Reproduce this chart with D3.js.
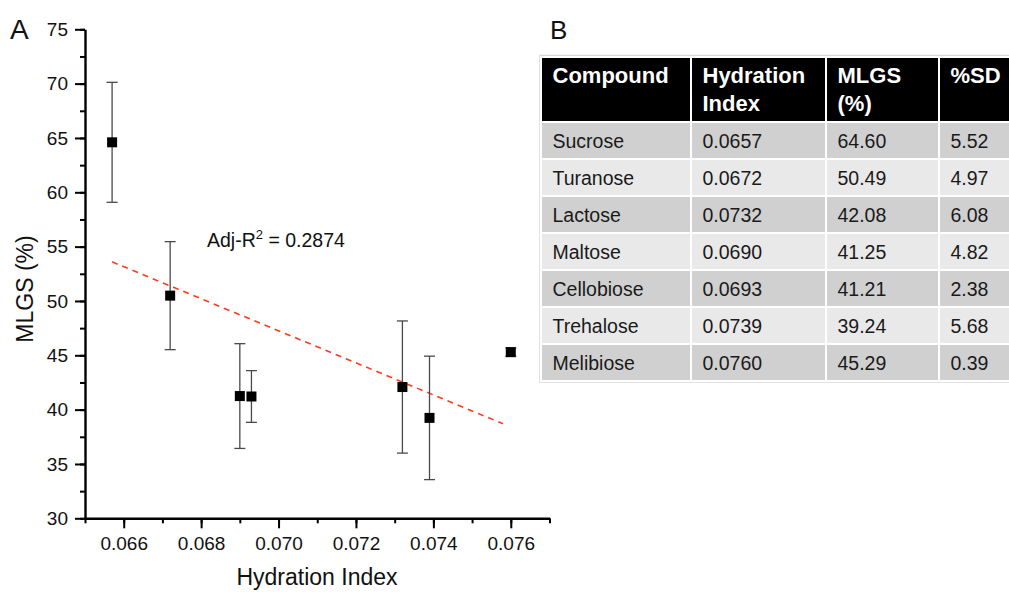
<!DOCTYPE html>
<html>
<head>
<meta charset="utf-8">
<script src="https://cdn.jsdelivr.net/npm/d3@7"></script>
<style>
  html, body { margin: 0; padding: 0; background: #fff; }
  svg { display: block; font-family: "Liberation Sans", Arial, sans-serif; }
</style>
</head>
<body>
<svg id="fig" width="1009" height="592"></svg>
<script>
// Compounds with hydration index, mean MLGS (%) and standard deviation
const compounds = ["Sucrose", "Turanose", "Lactose", "Maltose", "Cellobiose", "Trehalose", "Melibiose"];
const hydrationIndex = [0.0657, 0.0672, 0.0732, 0.0690, 0.0693, 0.0739, 0.0760];
const mlgs = [64.60, 50.49, 42.08, 41.25, 41.21, 39.24, 45.29];
const sd = [5.52, 4.97, 6.08, 4.82, 2.38, 5.68, 0.39];

// Linear fit drawn across the data range
const fitX = [0.0657, 0.0758];
const fitY = [53.6, 38.7];
const fitLabel = "0.2874";

// Axis ticks
const xTicks = [0.066, 0.068, 0.070, 0.072, 0.074, 0.076];
const yTicks = [30, 35, 40, 45, 50, 55, 60, 65, 70, 75];

// Table header
const headers = [["Compound"], ["Hydration", "Index"], ["MLGS", "(%)"], ["%SD"]];

const svg = d3.select("#fig");
const tickFont = 19, titleFont = 23;

// ---------- Panel A: scatter ----------
const x = d3.scaleLinear().domain([0.065, 0.077]).range([85, 549.5]);
const y = d3.scaleLinear().domain([30, 75]).range([518.3, 29.3]);

const gA = svg.append("g");

// minor ticks
const xMinor = d3.range(0.065, 0.0771, 0.001);
const yMinor = d3.range(30, 75.1, 2.5);

const xAxis = gA.append("g").attr("transform", `translate(0,${y(30)})`);
xAxis.append("g")
  .call(d3.axisBottom(x).tickValues(xMinor).tickSize(5).tickFormat(""))
  .call(g => g.select(".domain").remove())
  .call(g => g.selectAll("line").attr("stroke", "#000").attr("stroke-width", 2));
xAxis.append("g")
  .call(d3.axisBottom(x).tickValues(xTicks).tickSize(10).tickSizeOuter(0).tickPadding(8)
    .tickFormat(d3.format(".3f")))
  .call(g => g.select(".domain").attr("stroke-width", 2.4))
  .call(g => g.selectAll("line").attr("stroke", "#000").attr("stroke-width", 2))
  .call(g => g.selectAll("text").attr("font-size", tickFont).attr("fill", "#111")
    .attr("font-family", "Liberation Sans, Arial, sans-serif"));

const yAxis = gA.append("g").attr("transform", `translate(${x(0.065)},0)`);
yAxis.append("g")
  .call(d3.axisLeft(y).tickValues(yMinor).tickSize(5).tickFormat(""))
  .call(g => g.select(".domain").remove())
  .call(g => g.selectAll("line").attr("stroke", "#000").attr("stroke-width", 2));
yAxis.append("g")
  .call(d3.axisLeft(y).tickValues(yTicks).tickSize(10).tickSizeOuter(0).tickPadding(7))
  .call(g => g.select(".domain").attr("stroke-width", 2.4))
  .call(g => g.selectAll("line").attr("stroke", "#000").attr("stroke-width", 2))
  .call(g => g.selectAll("text").attr("font-size", tickFont).attr("fill", "#111")
    .attr("font-family", "Liberation Sans, Arial, sans-serif"));

// axis titles
gA.append("text")
  .attr("x", 317).attr("y", 585)
  .attr("text-anchor", "middle").attr("font-size", titleFont).attr("fill", "#111")
  .text("Hydration Index");
gA.append("text")
  .attr("transform", `translate(33,289) rotate(-90)`)
  .attr("text-anchor", "middle").attr("font-size", titleFont).attr("fill", "#111")
  .text("MLGS (%)");

// panel letter
svg.append("text").attr("x", 10).attr("y", 38.5).attr("font-size", 28).attr("fill", "#111").text("A");

// fit line
gA.append("line")
  .attr("x1", x(fitX[0])).attr("y1", y(fitY[0]))
  .attr("x2", x(fitX[1])).attr("y2", y(fitY[1]))
  .attr("stroke", "#ff3a1c").attr("stroke-width", 1.6)
  .attr("stroke-dasharray", "6,5");

// error bars
const pts = compounds.map((c, i) => ({ c, x: hydrationIndex[i], y: mlgs[i], e: sd[i] }));
const eb = gA.append("g").attr("stroke", "#4a4a4a").attr("stroke-width", 1.3);
eb.selectAll(".v").data(pts).join("line")
  .attr("x1", d => x(d.x)).attr("x2", d => x(d.x))
  .attr("y1", d => y(d.y - d.e)).attr("y2", d => y(d.y + d.e));
eb.selectAll(".t").data(pts).join("line")
  .attr("x1", d => x(d.x) - 5.5).attr("x2", d => x(d.x) + 5.5)
  .attr("y1", d => y(d.y + d.e)).attr("y2", d => y(d.y + d.e));
eb.selectAll(".b").data(pts).join("line")
  .attr("x1", d => x(d.x) - 5.5).attr("x2", d => x(d.x) + 5.5)
  .attr("y1", d => y(d.y - d.e)).attr("y2", d => y(d.y - d.e));

// markers
gA.append("g").selectAll("rect").data(pts).join("rect")
  .attr("x", d => x(d.x) - 5).attr("y", d => y(d.y) - 5)
  .attr("width", 10).attr("height", 10).attr("fill", "#000");

// fit statistic
const ann = gA.append("text").attr("x", 207).attr("y", 247).attr("font-size", 19.5).attr("fill", "#111");
ann.append("tspan").text("Adj-R");
ann.append("tspan").attr("font-size", 13).attr("dy", -8).text("2");
ann.append("tspan").attr("dy", 8).text(" = " + fitLabel);

// ---------- Panel B: table ----------
svg.append("text").attr("x", 550).attr("y", 38.5).attr("font-size", 26).attr("fill", "#111").text("B");

const colX = [541, 691, 826, 939, 1012];
const headTop = 57, headBottom = 122, rowH = 37;
const gB = svg.append("g");

// outer faint border
gB.append("rect").attr("x", 540).attr("y", 55.5).attr("width", 480).attr("height", headBottom + rowH * compounds.length - 55 + 0.5)
  .attr("fill", "none").attr("stroke", "#d8d8d8").attr("stroke-width", 1.5);

// header cells
headers.forEach((h, j) => {
  gB.append("rect")
    .attr("x", colX[j]).attr("y", headTop)
    .attr("width", colX[j + 1] - colX[j]).attr("height", headBottom - headTop)
    .attr("fill", "#000").attr("stroke", "#fff").attr("stroke-width", 2);
  const t = gB.append("text").attr("x", colX[j] + 11).attr("y", 83)
    .attr("font-size", 22).attr("font-weight", "bold").attr("fill", "#fff");
  h.forEach((line, k) => t.append("tspan").attr("x", colX[j] + 11.5).attr("dy", k === 0 ? 0 : 28).text(line));
});

// body rows
const rows = compounds.map((c, i) => [c, hydrationIndex[i].toFixed(4), mlgs[i].toFixed(2), sd[i].toFixed(2)]);
rows.forEach((r, i) => {
  const top = headBottom + i * rowH;
  r.forEach((v, j) => {
    gB.append("rect")
      .attr("x", colX[j]).attr("y", top)
      .attr("width", colX[j + 1] - colX[j]).attr("height", rowH)
      .attr("fill", i % 2 === 0 ? "#d0d0d0" : "#e9e9e9")
      .attr("stroke", "#fff").attr("stroke-width", 2);
    gB.append("text").attr("x", colX[j] + 11.5).attr("y", top + 25.5)
      .attr("font-size", 19.5).attr("fill", "#1a1a1a").text(v);
  });
});
</script>
</body>
</html>
